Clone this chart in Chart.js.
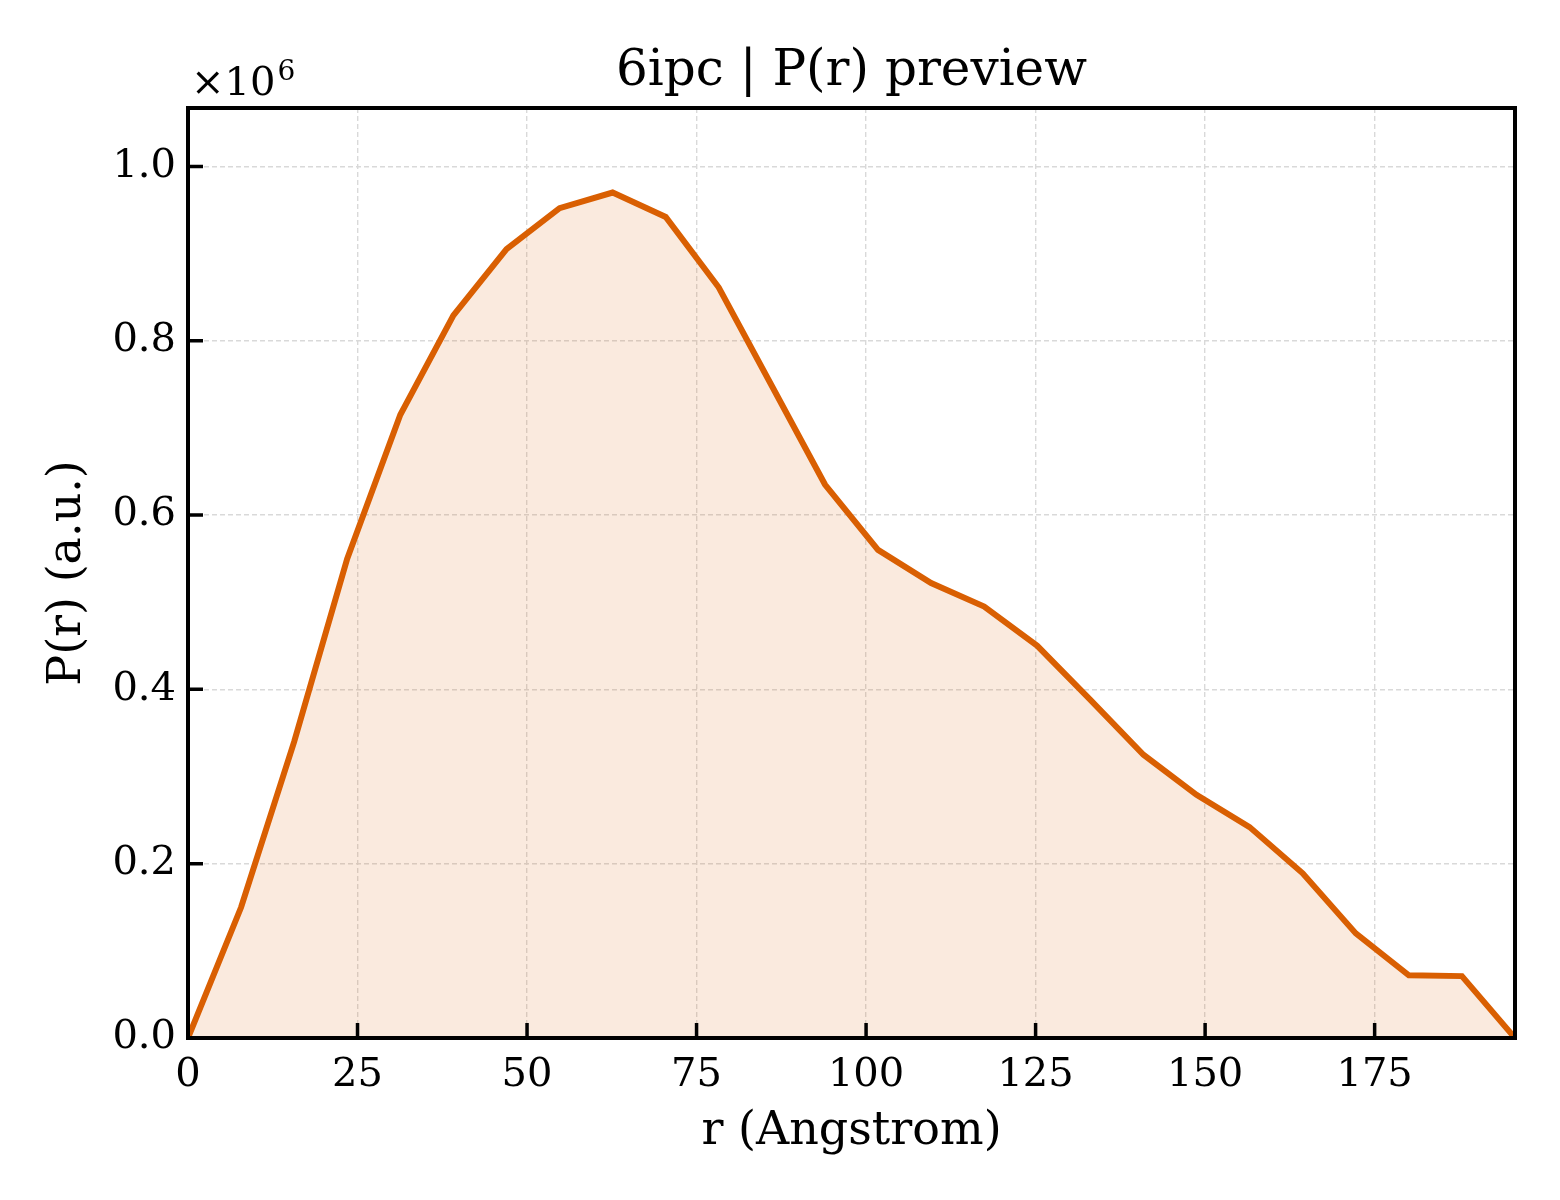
<!DOCTYPE html>
<html>
<head>
<meta charset="utf-8">
<title>6ipc | P(r) preview</title>
<script src="https://cdn.jsdelivr.net/npm/chart.js@4"></script>
<style>
  html, body { margin: 0; padding: 0; background: #fff; }
  canvas { display: block; }
</style>
</head>
<body>
<canvas id="prChart" width="1560" height="1200"></canvas>
<script>
// r values (Angstrom) and P(r) in units of 1e6
var rValues = [0, 7.83, 15.66, 23.48, 31.31, 39.14, 46.97, 54.8, 62.62, 70.45,
    78.28, 86.11, 93.94, 101.76, 109.59, 117.42, 125.25, 133.08, 140.9, 148.73,
    156.56, 164.39, 172.22, 180.04, 187.87, 195.7];
var prValues = [0, 0.150, 0.340, 0.550, 0.715, 0.829, 0.905, 0.952, 0.970, 0.942,
    0.861, 0.748, 0.635, 0.560, 0.522, 0.495, 0.450, 0.388, 0.325, 0.279,
    0.242, 0.189, 0.120, 0.072, 0.071, 0];

var titleText = '6ipc | P(r) preview';
var xLabel = 'r (Angstrom)';
var yLabel = 'P(r) (a.u.)';

var serif = "'DejaVu Serif', serif";
var lineColor = '#d95f02';

// frame, inward tick marks, title and the x10^6 offset text
var framePlugin = {
    id: 'frame',
    afterDraw: function(chart) {
        var ctx = chart.ctx;
        var a = chart.chartArea;
        var xs = chart.scales.x, ys = chart.scales.y;
        ctx.save();
        ctx.strokeStyle = '#000';
        ctx.lineWidth = 4;
        ctx.strokeRect(a.left, a.top, a.right - a.left, a.bottom - a.top);

        ctx.lineWidth = 3.5;
        ctx.beginPath();
        xs.ticks.forEach(function(t) {
            var px = xs.getPixelForValue(t.value);
            ctx.moveTo(px, a.bottom);
            ctx.lineTo(px, a.bottom - 15);
        });
        ys.ticks.forEach(function(t) {
            var py = ys.getPixelForValue(t.value);
            ctx.moveTo(a.left, py);
            ctx.lineTo(a.left + 15, py);
        });
        ctx.stroke();

        ctx.fillStyle = '#000';
        ctx.textAlign = 'center';
        ctx.textBaseline = 'alphabetic';
        ctx.font = '50px ' + serif;
        ctx.fillText(titleText, (a.left + a.right) / 2, 85);

        ctx.textAlign = 'left';
        ctx.font = '40px ' + serif;
        ctx.fillText('\u00d710', a.left + 3, 95);
        var w = ctx.measureText('\u00d710').width;
        ctx.font = '28px ' + serif;
        ctx.fillText('6', a.left + 3 + w + 2, 80);
        ctx.restore();
    }
};

var data = rValues.map(function(r, i) { return { x: r, y: prValues[i] }; });

new Chart(document.getElementById('prChart').getContext('2d'), {
    type: 'line',
    data: {
        datasets: [{
            label: 'P(r)',
            data: data,
            borderColor: lineColor,
            backgroundColor: 'rgba(217, 95, 2, 0.13)',
            borderWidth: 6,
            fill: 'origin',
            pointRadius: 0,
            tension: 0
        }]
    },
    options: {
        responsive: false,
        animation: false,
        devicePixelRatio: 1,
        layout: { padding: { top: 108, right: 45, left: 0, bottom: 0 } },
        plugins: {
            legend: { display: false },
            tooltip: { enabled: false }
        },
        scales: {
            x: {
                type: 'linear',
                min: 0,
                max: 195.7,
                afterFit: function(s) { s.height = 162; },
                grid: { color: '#d9d9d9', lineWidth: 1.4, drawTicks: false },
                border: { display: false, dash: [5, 3] },
                ticks: {
                    stepSize: 25,
                    includeBounds: false,
                    padding: 14,
                    color: '#000',
                    font: { family: serif, size: 40 },
                    callback: function(v) { return String(v); }
                },
                title: {
                    display: true,
                    text: xLabel,
                    color: '#000',
                    font: { family: serif, size: 46 },
                    padding: { top: 0, bottom: 40 }
                }
            },
            y: {
                min: 0,
                max: 1.067,
                afterFit: function(s) { s.width = 188; },
                grid: { color: '#d9d9d9', lineWidth: 1.4, drawTicks: false },
                border: { display: false, dash: [5, 3] },
                ticks: {
                    stepSize: 0.2,
                    includeBounds: false,
                    padding: 12,
                    color: '#000',
                    font: { family: serif, size: 40 },
                    callback: function(v) { return v.toFixed(1); }
                },
                title: {
                    display: true,
                    text: yLabel,
                    color: '#000',
                    font: { family: serif, size: 46 },
                    padding: { top: 40, bottom: 0 }
                }
            }
        }
    },
    plugins: [framePlugin]
});
</script>
</body>
</html>
